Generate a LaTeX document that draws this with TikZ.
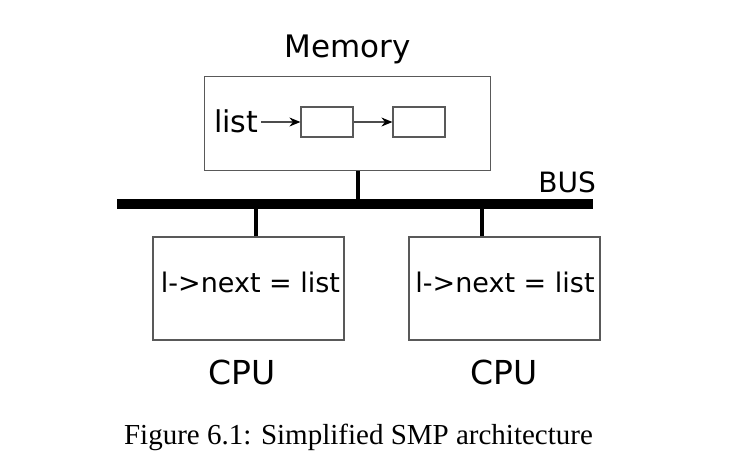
\documentclass[tikz,border=0pt]{standalone}
\usepackage{fontspec}
\setmainfont{DejaVu Sans}
\newfontfamily\capfont{Liberation Serif}
\usetikzlibrary{arrows.meta,positioning}
\tikzset{
  box/.style={rectangle,draw=black!65,line width=1.2pt,inner sep=0pt},
  cell/.style={box,minimum width=52pt,minimum height=30pt},
  cpubox/.style={box,minimum width=191pt,minimum height=103pt},
  link/.style={-{Stealth[length=11pt,width=9pt,color=black]},draw=black!70,line width=1.2pt},
  stub/.style={line width=3.5pt},
  bus/.style={line width=9.5pt},
  biglbl/.style={font=\fontsize{33}{38}\selectfont,inner sep=0pt,anchor=base},
  txt/.style={font=\fontsize{27}{32}\selectfont,inner sep=0pt},
}

\begin{document}
\begin{tikzpicture}[x=1pt,y=-1pt]
  \useasboundingbox (0,0) rectangle (750,461);

  \node[box,minimum width=286pt,minimum height=94pt] (mem) at (347.5,123.5) {};
  \node[biglbl,font=\fontsize{31}{36}\selectfont] (memlbl) at (348,57) {Memory};
  \node[txt,font=\fontsize{30}{34}\selectfont,anchor=base west] (lst) at (214,132) {list};
  \node[cell] (c1) at (327,122) {};
  \node[cell] (c2) at (419,122) {};

  \draw[link,shorten <=3pt] (lst.east |- c1) -- (c1.west);
  \draw[link] (c1.east) -- (c2.west);

  \coordinate (busL) at (117,204);
  \coordinate (busR) at (593,204);
  \draw[bus] (busL) -- (busR);
  \node[biglbl,font=\fontsize{28}{32}\selectfont,anchor=base east] (buslbl) at (596,192) {BUS};

  \node[cpubox] (cpu1) at (248.5,288.5) {};
  \node[cpubox] (cpu2) at (504.5,288.5) {};
  \node[txt] (op1) at (250.5,282) {l->next = list};
  \node[txt] (op2) at (505,282) {l->next = list};
  \node[biglbl] (cpulbl1) at (242.5,384) {CPU};
  \node[biglbl] (cpulbl2) at (504,384) {CPU};

  \draw[stub] ([xshift=10.5pt]mem.south) -- ([xshift=10.5pt]mem.south |- busL);
  \draw[stub] ([xshift=7.5pt]cpu1.north) -- ([xshift=7.5pt]cpu1.north |- busL);
  \draw[stub] ([xshift=-22.5pt]cpu2.north) -- ([xshift=-22.5pt]cpu2.north |- busL);

  \node[font=\capfont\fontsize{29}{33}\selectfont,inner sep=0pt,anchor=base] (cap) at (358.5,444)
    {Figure 6.1: Simplified SMP architecture};
\end{tikzpicture}
\end{document}
